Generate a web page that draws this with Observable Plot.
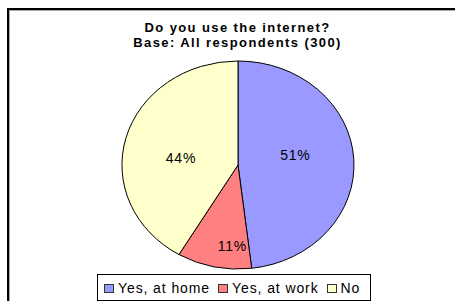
<!DOCTYPE html>
<html>
<head>
<meta charset="utf-8">
<script src="https://cdn.jsdelivr.net/npm/d3@7"></script>
<script src="https://cdn.jsdelivr.net/npm/@observablehq/plot@0.6"></script>
<style>
  html, body { margin: 0; padding: 0; background: #fff; overflow: hidden; }
  body { width: 455px; height: 301px; position: relative; font-family: "Liberation Sans", Arial, sans-serif; }
  #frame { position: absolute; left: 7px; top: 8px; width: 470px; height: 320px;
    border-left: 2px solid #000; border-top: 2px solid #000; box-shadow: inset 1px 1px 0 #aaa; box-sizing: border-box; }
  #title { position: absolute; left: 0; top: 20px; width: 475px; text-align: center;
    font-weight: bold; font-size: 13px; line-height: 15px; letter-spacing: 1.4px; color: #000; }
  #chart { position: absolute; left: 0; top: 0; }
  #legend { position: absolute; left: 97px; top: 274px; width: 274px; height: 27px; box-sizing: border-box;
    border: 1px solid #000; background: #fff; display: flex; align-items: center; padding-left: 6px;
    font-size: 14px; letter-spacing: 0.9px; }
  .item { display: flex; align-items: center; margin-right: 8px; white-space: nowrap; }
  .sw { width: 8px; height: 7px; border: 1px solid #333; margin-right: 4px; margin-top: 2px; }
</style>
</head>
<body>
<div id="frame"></div>
<div id="title"></div>
<div id="chart"></div>
<div id="legend"></div>
<script>
const categories = ["Yes, at home", "Yes, at work", "No"];
const percents = [51, 11, 44];
const colors = ["#9999FF", "#FF8080", "#FFFFCC"];
const titleLines = ["Do you use the internet?", "Base: All respondents (300)"];

const color = d3.scaleOrdinal(categories, colors);
const pie = d3.pie().sort(null).value(d => d.value);
const slices = pie(categories.map((c, i) => ({category: c, value: percents[i]})));
const total = d3.sum(percents);

// label anchor in unit-circle data coordinates (slightly rotated back, like the source)
const labels = slices.map(s => {
  const a = (s.startAngle + s.endAngle) / 2 - 8 * Math.PI / 180;
  const r = s.data.value / total > 0.2 ? 0.5 : 0.78;
  return {x: r * Math.sin(a), y: r * Math.cos(a), text: s.data.value + "%"};
});

function pieMark(index, scales) {
  const cx = scales.x(0), cy = scales.y(0);
  const rx = scales.x(1) - cx, ry = cy - scales.y(1);
  const arc = d3.arc().innerRadius(0).outerRadius(1);
  const g = d3.create("svg:g").attr("transform", `translate(${cx},${cy}) scale(${rx},${ry})`);
  g.selectAll("path").data(slices).join("path")
    .attr("d", arc)
    .attr("fill", d => color(d.data.category))
    .attr("stroke", "#000")
    .attr("stroke-width", 1)
    .attr("vector-effect", "non-scaling-stroke");
  return g.node();
}

const plot = Plot.plot({
  width: 455,
  height: 301,
  marginLeft: 122,
  marginRight: 101,
  marginTop: 61,
  marginBottom: 32,
  x: {domain: [-1, 1], axis: null},
  y: {domain: [-1, 1], axis: null},
  style: {background: "transparent", fontFamily: "Liberation Sans, Arial, sans-serif", letterSpacing: "0.8px"},
  marks: [
    pieMark,
    Plot.text(labels, {x: "x", y: "y", text: "text", fontSize: 14, fill: "#000"})
  ]
});
document.getElementById("chart").appendChild(plot);

const title = document.getElementById("title");
titleLines.forEach(t => { const d = document.createElement("div"); d.textContent = t; title.appendChild(d); });

const legend = document.getElementById("legend");
categories.forEach(c => {
  const it = document.createElement("div"); it.className = "item";
  const sw = document.createElement("div"); sw.className = "sw"; sw.style.background = color(c);
  const tx = document.createElement("span"); tx.textContent = c;
  it.appendChild(sw); it.appendChild(tx); legend.appendChild(it);
});
</script>
</body>
</html>
